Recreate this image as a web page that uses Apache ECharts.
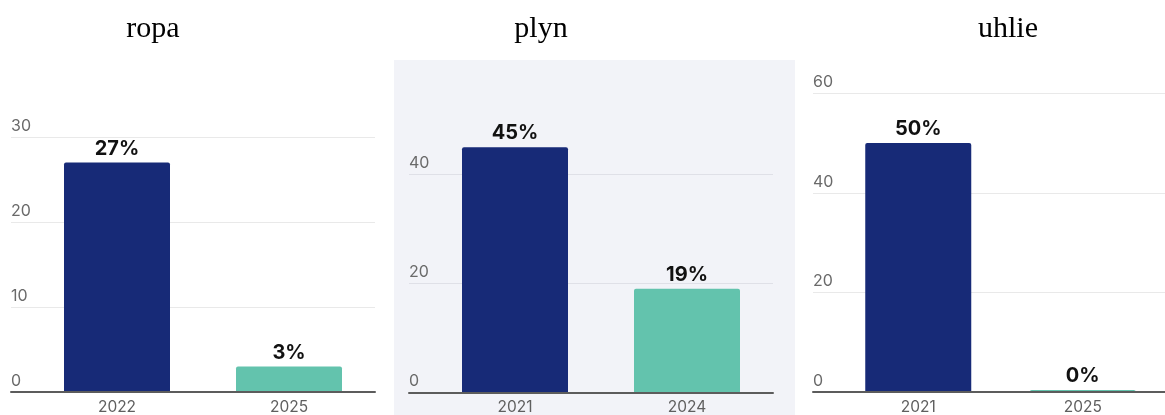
<!DOCTYPE html>
<html>
<head>
<meta charset="utf-8">
<script src="https://cdn.jsdelivr.net/npm/echarts@6/dist/echarts.min.js"></script>
<style>html,body{margin:0;padding:0;background:#fff}#c{width:1165px;height:415px}</style>
</head>
<body>
<div id="c"></div>
<script>
// ---- data ----
const titles = ['ropa', 'plyn', 'uhlie'];
const categoriesRopa = ['2022', '2025'];
const categoriesPlyn = ['2021', '2024'];
const categoriesUhlie = ['2021', '2025'];
const valuesRopa = [27, 3];
const valuesPlyn = [45, 19];
const valuesUhlie = [50, 0];
const yTicksRopa = [0, 10, 20, 30];
const yTicksPlyn = [0, 20, 40];
const yTicksUhlie = [0, 20, 40, 60];

// ---- layout / style ----
const NAVY = '#172a77', TEAL = '#63c3ad';
const FONT = 'Inter, Roboto, sans-serif';
const W = 1165, H = 415;
const panels = [
  { cats: categoriesRopa, vals: valuesRopa, ticks: yTicksRopa, gridL: 11, bandL: 31, bandR: 375, base: 392, scale: 8.5, barMax: 30, titleX: 153, grid: '#e9e9e9' },
  { cats: categoriesPlyn, vals: valuesPlyn, ticks: yTicksPlyn, gridL: 409, bandL: 429, bandR: 773, base: 392.5, scale: 5.45, barMax: 50, titleX: 541, grid: '#dfe0e7' },
  { cats: categoriesUhlie, vals: valuesUhlie, ticks: yTicksUhlie, gridL: 813, bandL: 836, bandR: 1180, base: 392, scale: 4.98, barMax: 60, titleX: 1008, grid: '#e9e9e9' }
];

const grid = [], xAxis = [], yAxis = [], series = [], graphic = [];
graphic.push({ type: 'rect', z: -100, shape: { x: 394, y: 60, width: 401, height: 360 }, style: { fill: '#f2f3f8' } });

panels.forEach((p, i) => {
  const tickMax = p.ticks[p.ticks.length - 1];
  const interval = p.ticks[1] - p.ticks[0];
  const bottom = H - p.base;
  // grid A: gridlines, y labels, baseline
  grid.push({ left: p.gridL, right: Math.max(W - p.bandR, -20), top: p.base - tickMax * p.scale, bottom: bottom, containLabel: false });
  // grid B: bars
  grid.push({ left: p.bandL, right: W - p.bandR, top: p.base - p.barMax * p.scale, bottom: bottom, containLabel: false });
  const ga = 2 * i, gb = 2 * i + 1;
  xAxis.push({ type: 'category', gridIndex: ga, data: p.cats, axisTick: { show: false }, axisLabel: { show: false },
    axisLine: { show: true, lineStyle: { color: '#5c5c5c', width: 2 } }, z: 5 });
  xAxis.push({ type: 'category', gridIndex: gb, data: p.cats, axisTick: { show: false }, axisLine: { show: false },
    axisLabel: { color: '#5f5f5f', fontSize: 15.5, fontFamily: FONT, margin: 7 } });
  yAxis.push({ type: 'value', gridIndex: ga, min: 0, max: tickMax, interval: interval,
    axisLine: { show: false }, axisTick: { show: false },
    splitLine: { show: true, lineStyle: { color: p.grid, width: 1 } },
    axisLabel: { inside: true, margin: 0, color: '#6a6a6a', fontSize: 16, fontFamily: FONT, verticalAlign: 'bottom', padding: [0, 0, 3, 0] } });
  yAxis.push({ type: 'value', gridIndex: gb, min: 0, max: p.barMax, show: false, splitLine: { show: false } });
  series.push({
    type: 'bar', xAxisIndex: gb, yAxisIndex: gb, data: p.vals, barWidth: 106, barMinHeight: 2,
    itemStyle: { color: (d) => d.dataIndex === 0 ? NAVY : TEAL, borderRadius: [2, 2, 0, 0] },
    label: { show: true, position: 'top', distance: 4, formatter: '{c}%', color: '#111', fontSize: 20, fontWeight: 'bold', fontFamily: FONT },
    z: 3
  });
  graphic.push({ type: 'text', x: p.titleX, y: 29, style: { text: titles[i], align: 'center', verticalAlign: 'middle', font: '30px "Liberation Serif", "Times New Roman", serif', fill: '#000' } });
});

const chart = echarts.init(document.getElementById('c'), null, { renderer: 'canvas', width: W, height: H });
chart.setOption({ animation: false, grid, xAxis, yAxis, series, graphic });
</script>
</body>
</html>
